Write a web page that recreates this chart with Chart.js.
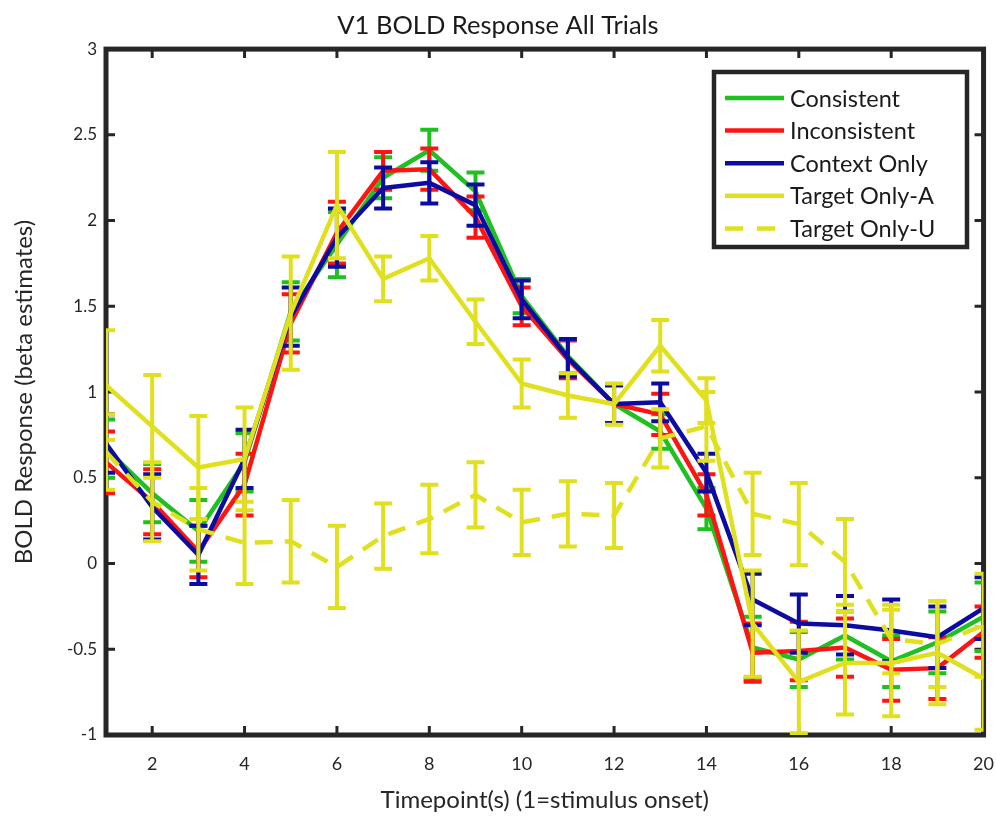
<!DOCTYPE html>
<html><head><meta charset="utf-8">
<script src="https://cdn.jsdelivr.net/npm/chart.js@4.4.0/dist/chart.umd.min.js"></script>
<style>html,body{margin:0;padding:0;background:#fff}#wrap{width:996px;height:818px}</style>
</head><body><div id="wrap"><canvas id="c" width="996" height="818"></canvas></div>
<script>
const timepoints = [1,2,3,4,5,6,7,8,9,10,11,12,13,14,15,16,17,18,19,20];
const xTickValues = [2,4,6,8,10,12,14,16,18,20];
const yTickValues = [-1,-0.5,0,0.5,1,1.5,2,2.5,3];
const seriesNames = ['Consistent','Inconsistent','Context Only','Target Only-A','Target Only-U'];

const consistentMean = [0.67,0.41,0.19,0.59,1.47,1.86,2.25,2.41,2.17,1.56,1.21,0.93,0.77,0.32,-0.49,-0.56,-0.42,-0.57,-0.46,-0.31];
const consistentErr  = [0.17,0.17,0.18,0.17,0.17,0.19,0.12,0.12,0.11,0.10,0.10,0.11,0.10,0.12,0.18,0.16,0.14,0.15,0.18,0.20];
const inconsistentMean = [0.59,0.36,0.07,0.46,1.40,1.93,2.29,2.30,2.02,1.50,1.19,0.93,0.87,0.40,-0.52,-0.51,-0.49,-0.62,-0.61,-0.40];
const inconsistentErr  = [0.18,0.19,0.15,0.18,0.17,0.18,0.11,0.12,0.12,0.11,0.11,0.11,0.12,0.12,0.17,0.17,0.17,0.18,0.18,0.15];
const contextMean = [0.70,0.33,0.05,0.61,1.44,1.90,2.19,2.22,2.09,1.54,1.20,0.93,0.94,0.53,-0.21,-0.35,-0.36,-0.39,-0.43,-0.26];
const contextErr  = [0.17,0.19,0.17,0.17,0.17,0.17,0.12,0.12,0.12,0.11,0.11,0.11,0.11,0.11,0.15,0.17,0.17,0.18,0.18,0.18];
const targetAMean = [1.04,0.80,0.56,0.61,1.46,2.09,1.66,1.78,1.41,1.05,0.98,0.93,1.27,0.95,-0.35,-0.69,-0.58,-0.58,-0.52,-0.67];
const targetAErr  = [0.32,0.30,0.30,0.30,0.33,0.31,0.13,0.13,0.13,0.14,0.13,0.12,0.15,0.13,0.31,0.30,0.30,0.31,0.30,0.30];
const targetUMean = [0.65,0.36,0.20,0.12,0.13,-0.02,0.16,0.26,0.40,0.24,0.29,0.28,0.73,0.80,0.29,0.23,0.01,-0.44,-0.47,-0.36];
const targetUErr  = [0.22,0.23,0.24,0.24,0.24,0.24,0.19,0.20,0.19,0.19,0.19,0.19,0.17,0.20,0.24,0.24,0.25,0.20,0.25,0.30];

const colGreen = '#1fc01f', colRed = '#ff1414', colBlue = '#0c0ca2', colYellow = '#e0e01e';
const FONT = 'Lato, "Open Sans", sans-serif';
const AXIS = '#262626';

function mk(label, mean, err, color, order, dash) {
  return {
    label, data: timepoints.map((t,i)=>({x:t, y:mean[i]})), errors: err,
    borderColor: color, backgroundColor: color, borderWidth: 4.5, pointRadius: 0,
    tension: 0, order, borderDash: dash || [], fill: false, borderJoinStyle: 'round'
  };
}

const errorBarPlugin = {
  id: 'errorBars',
  afterDatasetDraw(chart, args) {
    const ds = chart.data.datasets[args.index];
    if (!ds.errors) return;
    const {ctx, chartArea: a} = chart;
    const xs = chart.scales.x, ys = chart.scales.y;
    ctx.save();
    ctx.beginPath(); ctx.rect(a.left, a.top, a.right - a.left, a.bottom - a.top); ctx.clip();
    ctx.strokeStyle = ds.borderColor; ctx.lineWidth = 4; ctx.setLineDash([]); ctx.lineCap = 'butt';
    ds.data.forEach((p, i) => {
      const e = ds.errors[i];
      const px = xs.getPixelForValue(p.x);
      const y1 = ys.getPixelForValue(p.y + e), y2 = ys.getPixelForValue(p.y - e);
      const hw = 9;
      ctx.beginPath();
      ctx.moveTo(px, y1); ctx.lineTo(px, y2);
      ctx.moveTo(px - hw, y1); ctx.lineTo(px + hw, y1);
      ctx.moveTo(px - hw, y2); ctx.lineTo(px + hw, y2);
      ctx.stroke();
    });
    ctx.restore();
  }
};

const framePlugin = {
  id: 'frame',
  beforeDatasetsDraw(chart) {
    const {ctx, chartArea: a} = chart;
    const xs = chart.scales.x, ys = chart.scales.y;
    ctx.save();
    ctx.strokeStyle = AXIS; ctx.lineCap = 'butt';
    ctx.lineWidth = 3;
    const tl = 9;
    ctx.beginPath();
    xTickValues.forEach(v => {
      const px = xs.getPixelForValue(v);
      ctx.moveTo(px, a.bottom); ctx.lineTo(px, a.bottom - tl);
      ctx.moveTo(px, a.top); ctx.lineTo(px, a.top + tl);
    });
    yTickValues.forEach(v => {
      const py = ys.getPixelForValue(v);
      ctx.moveTo(a.left, py); ctx.lineTo(a.left + tl, py);
      ctx.moveTo(a.right, py); ctx.lineTo(a.right - tl, py);
    });
    ctx.stroke();
    ctx.lineWidth = 5;
    ctx.strokeRect(a.left, a.top, a.right - a.left, a.bottom - a.top);
    ctx.restore();
  }
};

const legendPlugin = {
  id: 'boxLegend',
  afterDraw(chart) {
    const {ctx} = chart;
    const bx = 714, by = 72, bw = 253, bh = 175;
    ctx.save();
    ctx.fillStyle = '#fff'; ctx.fillRect(bx, by, bw, bh);
    ctx.strokeStyle = AXIS; ctx.lineWidth = 4.5; ctx.strokeRect(bx, by, bw, bh);
    chart.data.datasets.forEach((ds, i) => {
      const y = 98 + i * 32.6;
      ctx.strokeStyle = ds.borderColor; ctx.lineWidth = 4.5;
      ctx.setLineDash(ds.borderDash && ds.borderDash.length ? [18, 14] : []);
      ctx.beginPath(); ctx.moveTo(725, y); ctx.lineTo(784, y); ctx.stroke();
      ctx.setLineDash([]);
      ctx.fillStyle = '#1a1a1a'; ctx.font = '23.5px ' + FONT; ctx.textBaseline = 'middle'; ctx.textAlign = 'left';
      ctx.fillText(ds.label, 790, y + 1);
    });
    ctx.restore();
  }
};

const hiddenGrid = {display: true, drawOnChartArea: false, drawTicks: true, color: 'rgba(0,0,0,0)'};

new Chart(document.getElementById('c'), {
  type: 'line',
  data: {
    datasets: [
      mk(seriesNames[0], consistentMean, consistentErr, colGreen, 4),
      mk(seriesNames[1], inconsistentMean, inconsistentErr, colRed, 3),
      mk(seriesNames[2], contextMean, contextErr, colBlue, 2),
      mk(seriesNames[3], targetAMean, targetAErr, colYellow, 1),
      mk(seriesNames[4], targetUMean, targetUErr, colYellow, 0, [18, 12])
    ]
  },
  options: {
    responsive: false, animation: false, devicePixelRatio: 1,
    layout: {padding: {left: 0, right: 0, top: 0, bottom: 0}},
    plugins: {
      legend: {display: false},
      tooltip: {enabled: false},
      title: {display: true, text: 'V1 BOLD Response All Trials', color: '#1a1a1a',
        font: {family: FONT, size: 25.5, weight: 'normal'}, padding: {top: 10, bottom: 8.5}}
    },
    scales: {
      x: {
        type: 'linear', min: 1, max: 20,
        afterBuildTicks: s => { s.ticks = xTickValues.map(v => ({value: v})); },
        afterFit: s => { s.height = 83; },
        grid: Object.assign({tickLength: 16}, hiddenGrid), border: {display: false},
        ticks: {color: '#262626', font: {family: FONT, size: 18}, padding: 2, maxRotation: 0, autoSkip: false},
        title: {display: true, text: 'Timepoint(s) (1=stimulus onset)', color: '#262626',
          font: {family: FONT, size: 24}, padding: {top: 0, bottom: 3}}
      },
      y: {
        type: 'linear', min: -1, max: 3,
        afterBuildTicks: s => { s.ticks = yTickValues.map(v => ({value: v})); },
        afterFit: s => { s.width = 106; },
        grid: Object.assign({tickLength: 7}, hiddenGrid), border: {display: false},
        ticks: {color: '#262626', font: {family: FONT, size: 17}, padding: 2, callback: v => String(v)},
        title: {display: true, text: 'BOLD Response (beta estimates)', color: '#262626',
          font: {family: FONT, size: 24}, padding: {top: 10, bottom: 0}}
      }
    }
  },
  plugins: [framePlugin, errorBarPlugin, legendPlugin]
});
</script></body></html>
